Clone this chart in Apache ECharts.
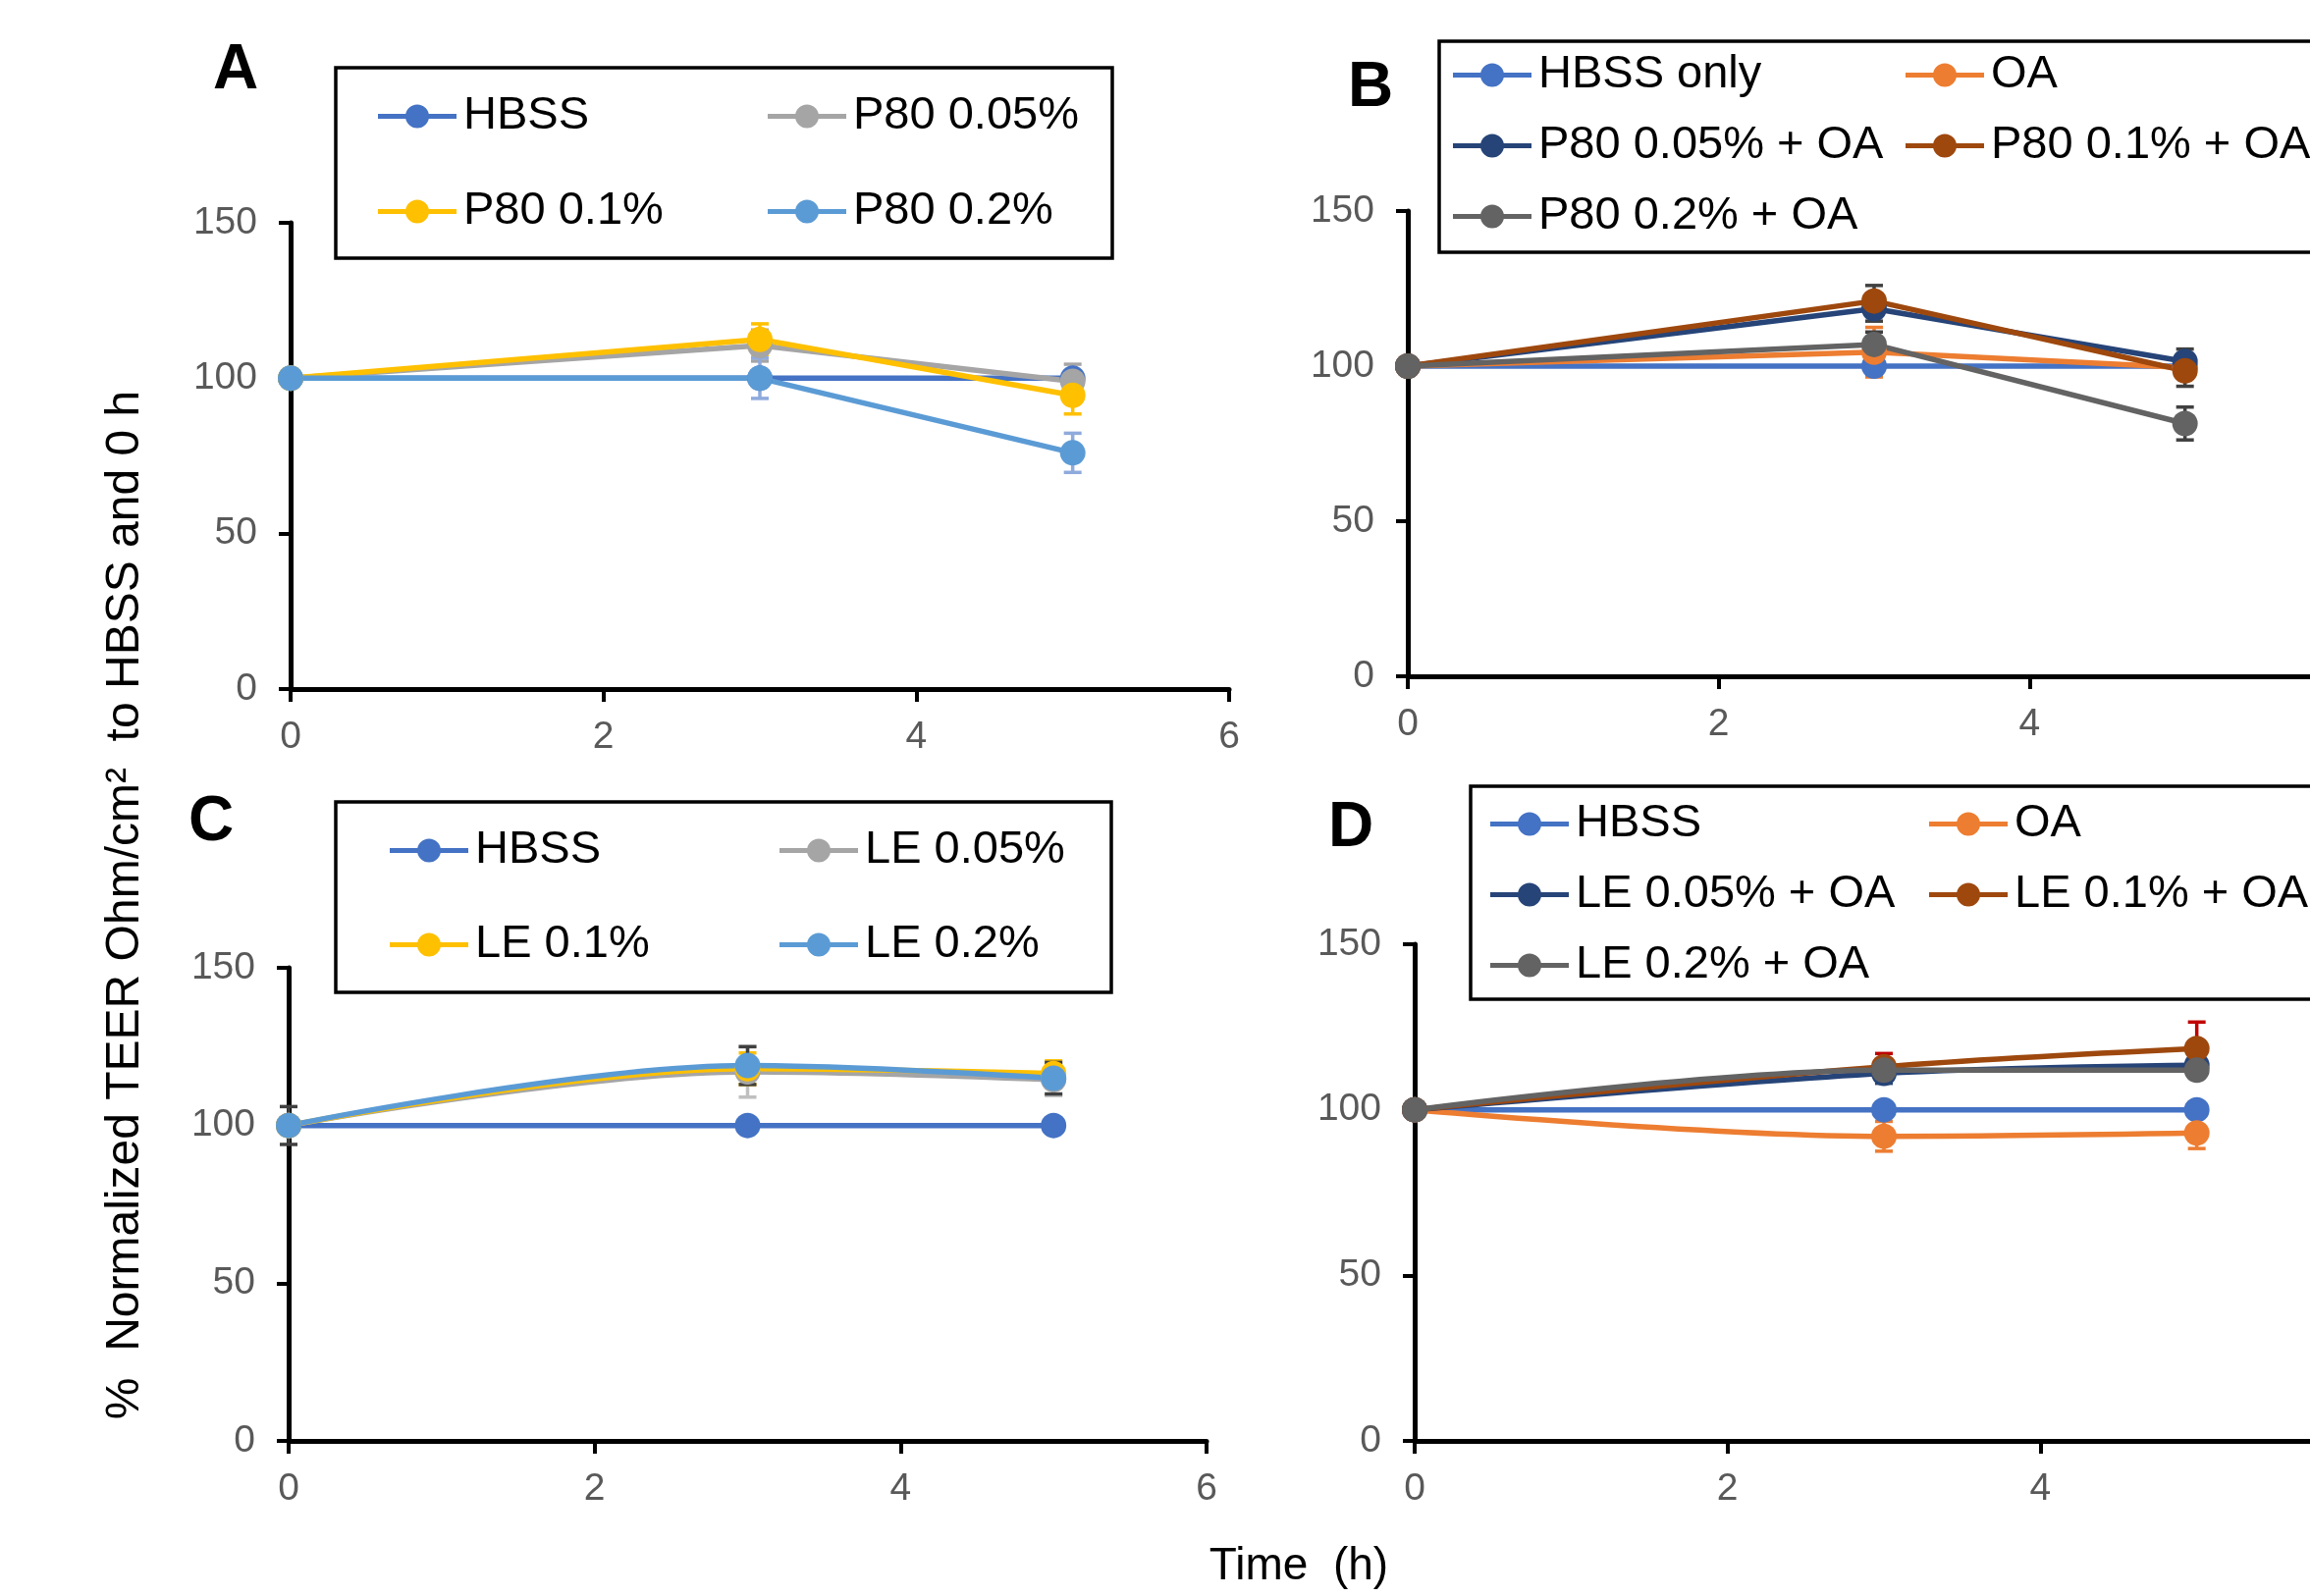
<!DOCTYPE html>
<html><head><meta charset="utf-8">
<script src="https://cdn.jsdelivr.net/npm/echarts@6/dist/echarts.min.js"></script>
<style>html,body{margin:0;padding:0;background:#fff}#c{width:2353px;height:1626px}</style>
</head><body><div id="c"></div>
<script>
// ---------- data ----------
const times = [0, 3, 5];
const xMin = 0, xMax = 6, xStep = 2;
const yMin = 0, yMax = 150, yStep = 50;

// Panel A
const namesA = ['HBSS', 'P80 0.05%', 'P80 0.1%', 'P80 0.2%'];
const a_HBSS = [100, 100, 100];
const a_P80_005 = [100, 110.5, 99];
const a_P80_01 = [100, 112.5, 94.5];
const a_P80_02 = [100, 100, 76];
const aErr_HBSS = [0, 0, 0];
const aErr_P80_005 = [0, 5, 5.5];
const aErr_P80_01 = [0, 5, 6];
const aErr_P80_02 = [0, 6.5, 6.3];

// Panel B
const namesB = ['HBSS only', 'OA', 'P80 0.05% + OA', 'P80 0.1% + OA', 'P80 0.2% + OA'];
const b_HBSS = [100, 100, 100];
const b_OA = [100, 104.5, 99.5];
const b_P80_005 = [100, 118.5, 101.5];
const b_P80_01 = [100, 121, 98.5];
const b_P80_02 = [100, 107, 81.5];
const bErr_HBSS = [0, 0, 0];
const bErr_OA = [0, 8, 2];
const bErr_P80_005 = [0, 4, 4];
const bErr_P80_01 = [0, 5, 5];
const bErr_P80_02 = [0, 4, 5.3];

// Panel C
const namesC = ['HBSS', 'LE 0.05%', 'LE 0.1%', 'LE 0.2%'];
const c_HBSS = [100, 100, 100];
const c_LE_005 = [100, 117, 114.5];
const c_LE_01 = [100, 118, 116.5];
const c_LE_02 = [100, 119, 115];
const cErr_HBSS = [0, 0, 0];
const cErr_LE_005 = [0, 8, 5];
const cErr_LE_01 = [0, 5, 4];
const cErr_LE_02 = [6, 6, 5];

// Panel D
const namesD = ['HBSS', 'OA', 'LE 0.05% + OA', 'LE 0.1% + OA', 'LE 0.2% + OA'];
const d_HBSS = [100, 100, 100];
const d_OA = [100, 92, 93];
const d_LE_005 = [100, 111, 113.5];
const d_LE_01 = [100, 113, 118.5];
const d_LE_02 = [100, 112, 112];
const dErr_HBSS = [0, 0, 0];
const dErr_OA = [0, 4.5, 4.7];
const dErr_LE_005 = [0, 3, 2];
const dErr_LE_01 = [0, 4, 8];
const dErr_LE_02 = [0, 2, 2];

const yTitle = '%  Normalized TEER Ohm/cm²  to HBSS and 0 h';
const xTitle = 'Time  (h)';
const panelLetters = ['A', 'B', 'C', 'D'];

// ---------- style ----------
const FONT = 'Liberation Sans';
const C = {
  blue: '#4472C4', gray: '#A5A5A5', yellow: '#FFC000', lblue: '#5B9BD5',
  orange: '#ED7D31', navy: '#264478', brown: '#9E480E', dgray: '#636363'
};
// legend icon: line with a circle marker in the middle (80 x 24 box)
const LEG_ICON = 'path://M0,9.5 L29,9.5 L29,14.5 L0,14.5 Z M51,9.5 L80,9.5 L80,14.5 L51,14.5 Z ' +
  'M28,12 A12,12 0 1,1 52,12 A12,12 0 1,1 28,12 Z';

const grids = [
  {left: 296, top: 227, width: 956, height: 475},
  {left: 1434, top: 215, width: 950, height: 474},
  {left: 294, top: 986, width: 935, height: 482},
  {left: 1441, top: 962, width: 956, height: 506}
];

function xAx(gi) {
  return {type: 'value', gridIndex: gi, min: xMin, max: xMax, interval: xStep,
    axisLine: {lineStyle: {color: '#000', width: 5}},
    axisTick: {length: 13, lineStyle: {color: '#000', width: 4}},
    axisLabel: {fontSize: 39, color: '#595959', fontFamily: FONT, margin: 30},
    splitLine: {show: false}};
}
function yAx(gi) {
  return {type: 'value', gridIndex: gi, min: yMin, max: yMax, interval: yStep,
    axisLine: {show: true, lineStyle: {color: '#000', width: 5}},
    axisTick: {show: true, length: 12, lineStyle: {color: '#000', width: 4}},
    axisLabel: {fontSize: 39, color: '#595959', fontFamily: FONT, margin: 34},
    splitLine: {show: false}};
}
function lineS(gi, name, vals, color, smooth) {
  return {type: 'line', name, xAxisIndex: gi, yAxisIndex: gi,
    data: times.map((t, i) => [t, vals[i]]),
    symbol: 'circle', symbolSize: 26, smooth: smooth ? 0.35 : false, showSymbol: true,
    lineStyle: {color, width: 5.5}, itemStyle: {color}, z: 3};
}
function errS(gi, vals, errs, color) {
  return {type: 'custom', xAxisIndex: gi, yAxisIndex: gi, z: 2, silent: true,
    data: times.map((t, i) => [t, vals[i], errs[i]]).filter(d => d[2] > 0),
    encode: {x: 0, y: 1},
    renderItem(params, api) {
      const x = api.value(0), y = api.value(1), e = api.value(2);
      const t = api.coord([x, y + e]), b = api.coord([x, y - e]);
      const hw = 9, st = {stroke: color, lineWidth: 3.5};
      return {type: 'group', children: [
        {type: 'line', shape: {x1: t[0], y1: t[1], x2: b[0], y2: b[1]}, style: st},
        {type: 'line', shape: {x1: t[0] - hw, y1: t[1], x2: t[0] + hw, y2: t[1]}, style: st},
        {type: 'line', shape: {x1: b[0] - hw, y1: b[1], x2: b[0] + hw, y2: b[1]}, style: st}
      ]};
    }};
}
function leg(names, left, top, gap) {
  return {orient: 'vertical', left, top, itemGap: gap, itemWidth: 80, itemHeight: 24,
    icon: LEG_ICON, data: names, selectedMode: false, padding: 0,
    itemStyle: {borderWidth: 0},
    textStyle: {fontSize: 47, color: '#000', fontFamily: FONT, lineHeight: 47, padding: [0, 0, 0, 2]}};
}

const series = [
  errS(0, a_P80_005, aErr_P80_005, '#A5A5A5'),
  errS(0, a_P80_01, aErr_P80_01, C.yellow),
  errS(0, a_P80_02, aErr_P80_02, '#8FAADC'),
  lineS(0, namesA[0], a_HBSS, C.blue, false),
  lineS(0, namesA[1], a_P80_005, C.gray, false),
  lineS(0, namesA[2], a_P80_01, C.yellow, false),
  lineS(0, namesA[3], a_P80_02, C.lblue, false),

  errS(1, b_OA, bErr_OA, C.orange),
  errS(1, b_P80_005, bErr_P80_005, '#404040'),
  errS(1, b_P80_01, bErr_P80_01, '#404040'),
  errS(1, b_P80_02, bErr_P80_02, '#404040'),
  lineS(1, namesB[0], b_HBSS, C.blue, false),
  lineS(1, namesB[1], b_OA, C.orange, false),
  lineS(1, namesB[2], b_P80_005, C.navy, false),
  lineS(1, namesB[3], b_P80_01, C.brown, false),
  lineS(1, namesB[4], b_P80_02, C.dgray, false),

  errS(2, c_LE_005, cErr_LE_005, '#BFBFBF'),
  errS(2, c_LE_01, cErr_LE_01, C.yellow),
  errS(2, c_LE_02, cErr_LE_02, '#404040'),
  lineS(2, namesC[0], c_HBSS, C.blue, true),
  lineS(2, namesC[1], c_LE_005, C.gray, true),
  lineS(2, namesC[2], c_LE_01, C.yellow, true),
  lineS(2, namesC[3], c_LE_02, C.lblue, true),

  errS(3, d_OA, dErr_OA, C.orange),
  errS(3, d_LE_005, dErr_LE_005, C.navy),
  errS(3, d_LE_01, dErr_LE_01, '#C00000'),
  errS(3, d_LE_02, dErr_LE_02, C.dgray),
  lineS(3, namesD[0], d_HBSS, C.blue, true),
  lineS(3, namesD[1], d_OA, C.orange, true),
  lineS(3, namesD[2], d_LE_005, C.navy, true),
  lineS(3, namesD[3], d_LE_01, C.brown, true),
  lineS(3, namesD[4], d_LE_02, C.dgray, true)
];

const letterPos = [[240, 72], [1396, 90], [215, 838], [1376, 844]];
const boxes = [
  {x: 342, y: 69, width: 791, height: 194},
  {x: 1466, y: 42, width: 1000, height: 215},
  {x: 342, y: 817, width: 790, height: 194},
  {x: 1498, y: 801, width: 1000, height: 217}
];

const graphic = [];
boxes.forEach(b => graphic.push({type: 'rect', shape: b, style: {fill: 'none', stroke: '#000', lineWidth: 3.5}, z: 0}));
panelLetters.forEach((L, i) => graphic.push({type: 'text', x: letterPos[i][0], y: letterPos[i][1],
  style: {text: L, fontSize: 64, fontWeight: 'bold', fontFamily: FONT, fill: '#000', textAlign: 'center', textVerticalAlign: 'middle'}}));
graphic.push({type: 'text', x: 128, y: 922, rotation: Math.PI / 2,
  style: {text: yTitle, fontSize: 48, fontFamily: FONT, fill: '#000', textAlign: 'center', textVerticalAlign: 'middle'}});
graphic.push({type: 'text', x: 1323, y: 1596,
  style: {text: xTitle, fontSize: 46, fontFamily: FONT, fill: '#000', textAlign: 'center', textVerticalAlign: 'middle'}});

const option = {
  animation: false,
  backgroundColor: '#fff',
  grid: grids.map(g => Object.assign({containLabel: false, outerBoundsMode: 'none'}, g)),
  xAxis: [0, 1, 2, 3].map(xAx),
  yAxis: [0, 1, 2, 3].map(yAx),
  legend: [
    leg([namesA[0], namesA[2]], 385, 95, 50),
    leg([namesA[1], namesA[3]], 782, 95, 50),
    leg([namesB[0], namesB[2], namesB[4]], 1480, 53, 25),
    leg([namesB[1], namesB[3]], 1941, 53, 25),
    leg([namesC[0], namesC[2]], 397, 843, 49),
    leg([namesC[1], namesC[3]], 794, 843, 49),
    leg([namesD[0], namesD[2], namesD[4]], 1518, 816, 25),
    leg([namesD[1], namesD[3]], 1965, 816, 25)
  ],
  graphic,
  series
};
const chart = echarts.init(document.getElementById('c'), null, {renderer: 'canvas'});
chart.setOption(option);
</script>
</body></html>
